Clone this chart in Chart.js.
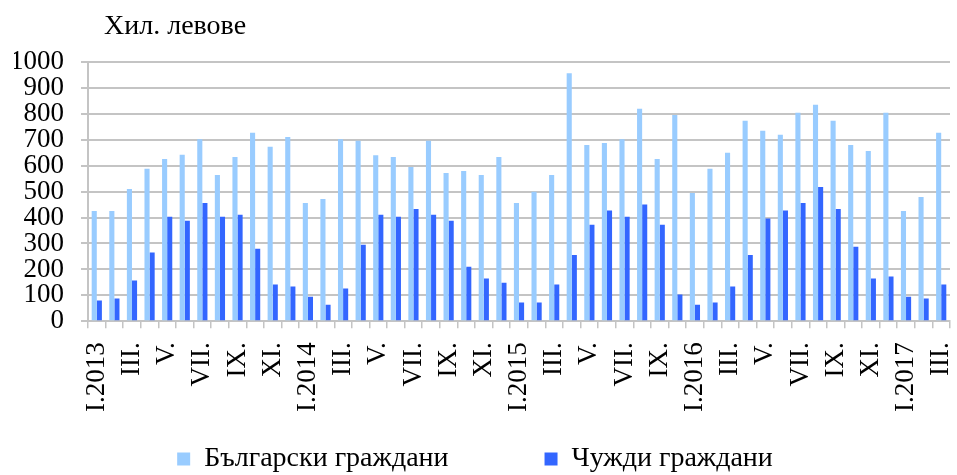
<!DOCTYPE html>
<html>
<head>
<meta charset="utf-8">
<script src="https://cdn.jsdelivr.net/npm/chart.js@4.4.1/dist/chart.umd.min.js"></script>
<style>
    html, body { margin: 0; padding: 0; background: #fff; }
    #wrap { width: 957px; height: 475px; }
</style>
</head>
<body>
<div id="wrap"><canvas id="chart"></canvas></div>
<script>
// Месеци (подписите се показват през един)
const labels = [
    'I.2013', '', 'III.', '', 'V.', '', 'VII.', '', 'IX.', '', 'XI.', '',
    'I.2014', '', 'III.', '', 'V.', '', 'VII.', '', 'IX.', '', 'XI.', '',
    'I.2015', '', 'III.', '', 'V.', '', 'VII.', '', 'IX.', '',
    'I.2016', '', 'III.', '', 'V.', '', 'VII.', '', 'IX.', '', 'XI.', '',
    'I.2017', '', 'III.'
];

// Български граждани, хил. лв.
const bulgarian = [
    425, 425, 510, 588, 626, 642, 702, 564, 634, 727, 673, 711,
    456, 472, 702, 696, 640, 634, 595, 696, 572, 580, 564, 634,
    456, 500, 564, 957, 680, 688, 702, 820, 626, 796,
    495, 588, 650, 773, 735, 719, 804, 835, 773, 680, 657, 804,
    425, 479, 727
];

// Чужди граждани, хил. лв.
const foreign = [
    80, 88, 157, 265, 403, 388, 456, 403, 411, 280, 142, 134,
    95, 64, 126, 295, 411, 403, 433, 411, 388, 210, 165, 149,
    72, 72, 142, 256, 372, 427, 403, 450, 372, 103,
    64, 72, 134, 256, 396, 427, 456, 518, 433, 287, 165, 173,
    95, 88, 142
];

const yTicks = [0, 100, 200, 300, 400, 500, 600, 700, 800, 900, 1000];

const gridColor = '#c4c4c4';
const fontFamily = "'Liberation Serif', 'Times New Roman', serif";

Chart.defaults.font.family = fontFamily;
Chart.defaults.font.size = 27;
Chart.defaults.color = '#000';

// Надпис над оста
const unitTitle = {
    id: 'unitTitle',
    afterDraw(chart) {
        const ctx = chart.ctx;
        ctx.save();
        ctx.font = '28px ' + fontFamily;
        ctx.fillStyle = '#000';
        ctx.textBaseline = 'alphabetic';
        ctx.fillText('Хил. левове', chart.chartArea.left + 16, 34);
        ctx.restore();
    }
};

const ctx = document.getElementById('chart').getContext('2d');
new Chart(ctx, {
    type: 'bar',
    data: {
        labels: labels,
        datasets: [
            {
                label: 'Български граждани',
                data: bulgarian,
                backgroundColor: '#99ccff',
                borderWidth: 0
            },
            {
                label: 'Чужди граждани',
                data: foreign,
                backgroundColor: '#3366ff',
                borderWidth: 0
            }
        ]
    },
    options: {
        responsive: true,
        maintainAspectRatio: false,
        animation: false,
        datasets: {
            bar: { categoryPercentage: 0.58, barPercentage: 1 }
        },
        layout: {
            padding: { top: 62, left: 14, right: 7, bottom: -8 }
        },
        scales: {
            x: {
                // въртените подписи не трябва да стесняват графиката
                afterFit: function(scale) {
                    scale.paddingLeft = 0;
                    scale.paddingRight = 0;
                },
                grid: {
                    display: true,
                    drawOnChartArea: false,
                    tickLength: 7,
                    color: gridColor,
                    lineWidth: 1.5
                },
                border: { color: gridColor, width: 2 },
                ticks: {
                    autoSkip: false,
                    maxRotation: 90,
                    minRotation: 90,
                    padding: 14
                }
            },
            y: {
                min: 0,
                max: 1000,
                afterBuildTicks: function(axis) {
                    axis.ticks = yTicks.map(v => ({ value: v }));
                },
                afterFit: function(scale) {
                    scale.width = 74;
                },
                grid: {
                    color: gridColor,
                    lineWidth: 2,
                    tickLength: 7
                },
                border: { color: gridColor, width: 2 },
                ticks: {
                    autoSkip: false,
                    padding: 17,
                    callback: function(value) {
                        return String(value);
                    }
                }
            }
        },
        plugins: {
            legend: {
                position: 'bottom',
                labels: {
                    font: { size: 28 },
                    boxWidth: 13,
                    boxHeight: 13,
                    padding: 19,
                    generateLabels: function(chart) {
                        const items = Chart.defaults.plugins.legend.labels.generateLabels(chart);
                        items[0].text += '\u00a0'.repeat(11);
                        items[1].text += '\u00a0'.repeat(2);
                        return items;
                    }
                }
            },
            tooltip: { enabled: false }
        }
    },
    plugins: [unitTitle]
});
</script>
</body>
</html>
